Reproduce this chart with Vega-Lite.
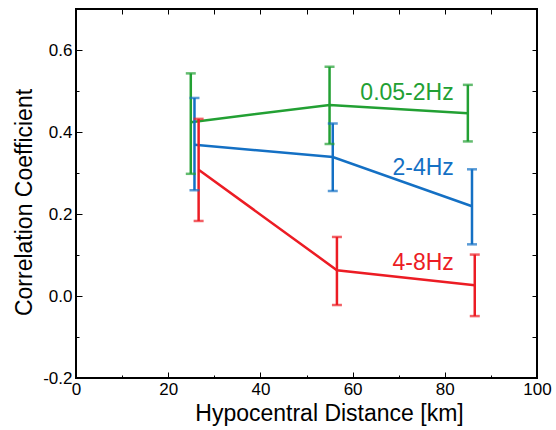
{
  "$schema": "https://vega.github.io/schema/vega-lite/v6.json",
  "width": 461,
  "height": 369,
  "autosize": {"type": "none"},
  "padding": {"left": 76, "top": 9, "right": 19, "bottom": 52},
  "background": "white",
  "config": {
    "view": {"stroke": "black", "strokeWidth": 2},
    "font": "Liberation Sans",
    "axis": {"domain": false, "grid": false, "tickColor": "black", "tickWidth": 1, "labelColor": "black", "titleColor": "black", "labelFont": "Liberation Sans", "titleFont": "Liberation Sans", "titleFontWeight": "normal"}
  },
  "datasets": {
    "pts": [
      {"band": "0.05-2Hz", "dist": 24.9, "mean": 0.424, "lo": 0.298, "hi": 0.543},
      {"band": "0.05-2Hz", "dist": 55.0, "mean": 0.466, "lo": 0.371, "hi": 0.559},
      {"band": "0.05-2Hz", "dist": 85.0, "mean": 0.446, "lo": 0.377, "hi": 0.515},
      {"band": "2-4Hz", "dist": 25.7, "mean": 0.369, "lo": 0.258, "hi": 0.483},
      {"band": "2-4Hz", "dist": 55.7, "mean": 0.339, "lo": 0.256, "hi": 0.421},
      {"band": "2-4Hz", "dist": 85.9, "mean": 0.219, "lo": 0.126, "hi": 0.309},
      {"band": "4-8Hz", "dist": 26.6, "mean": 0.308, "lo": 0.183, "hi": 0.432},
      {"band": "4-8Hz", "dist": 56.6, "mean": 0.063, "lo": -0.022, "hi": 0.144},
      {"band": "4-8Hz", "dist": 86.5, "mean": 0.026, "lo": -0.049, "hi": 0.101}
    ],
    "labels": [
      {"band": "0.05-2Hz", "lx": 71.8, "ly": 0.494},
      {"band": "2-4Hz", "lx": 75.3, "ly": 0.311},
      {"band": "4-8Hz", "lx": 75.3, "ly": 0.080}
    ]
  },
  "resolve": {"axis": {"x": "independent", "y": "independent"}},
  "layer": [
    {
      "data": {"name": "pts"},
      "mark": {"type": "line", "strokeWidth": 2.5},
      "encoding": {
        "x": {"field": "dist", "type": "quantitative",
          "scale": {"domain": [0, 100], "nice": false, "zero": false},
          "axis": {"orient": "bottom", "values": [0, 20, 40, 60, 80, 100], "format": "d", "tickSize": -6, "labelPadding": 9, "labelFontSize": 17, "labelFlush": false, "title": "Hypocentral Distance [km]", "titleFontSize": 23, "titlePadding": 5, "titleX": 253}},
        "y": {"field": "mean", "type": "quantitative",
          "scale": {"domain": [-0.2, 0.7], "nice": false, "zero": false},
          "axis": {"orient": "left", "values": [-0.2, 0, 0.2, 0.4, 0.6], "labelExpr": "datum.value < 0 ? '-' + format(-datum.value, '.1f') : format(datum.value, '.1f')", "tickSize": -6, "labelPadding": 10, "labelFontSize": 17, "labelFlush": false, "title": "Correlation Coefficient", "titleFontSize": 23, "titlePadding": 6, "titleY": 193}},
        "color": {"field": "band", "type": "nominal",
          "scale": {"domain": ["0.05-2Hz", "2-4Hz", "4-8Hz"], "range": ["#22a033", "#1470c4", "#ec1c24"]},
          "legend": null}
      }
    },
    {
      "data": {"name": "pts"},
      "mark": {"type": "rule", "strokeWidth": 2.5},
      "encoding": {
        "x": {"field": "dist", "type": "quantitative",
          "axis": {"orient": "bottom", "values": [10, 30, 50, 70, 90], "labels": false, "tickSize": -3, "title": null}},
        "y": {"field": "lo", "type": "quantitative",
          "axis": {"orient": "left", "values": [-0.1, 0.1, 0.3, 0.5, 0.7], "labels": false, "tickSize": -3, "title": null}},
        "y2": {"field": "hi"},
        "color": {"field": "band", "type": "nominal"}
      }
    },
    {
      "data": {"name": "pts"},
      "mark": {"type": "tick", "orient": "horizontal", "size": 10, "thickness": 2.5},
      "encoding": {
        "x": {"field": "dist", "type": "quantitative",
          "axis": {"orient": "top", "values": [10, 20, 30, 40, 50, 60, 70, 80, 90], "labels": false, "tickSize": -5, "title": null}},
        "y": {"field": "hi", "type": "quantitative",
          "axis": {"orient": "right", "values": [-0.1, 0, 0.1, 0.2, 0.3, 0.4, 0.5, 0.6], "labels": false, "tickSize": -5, "title": null}},
        "color": {"field": "band", "type": "nominal"}
      }
    },
    {
      "data": {"name": "pts"},
      "mark": {"type": "tick", "orient": "horizontal", "size": 10, "thickness": 2.5},
      "encoding": {
        "x": {"field": "dist", "type": "quantitative", "axis": null},
        "y": {"field": "lo", "type": "quantitative", "axis": null},
        "color": {"field": "band", "type": "nominal"}
      }
    },
    {
      "data": {"name": "labels"},
      "mark": {"type": "text", "fontSize": 23, "font": "Liberation Sans", "align": "center", "baseline": "middle"},
      "encoding": {
        "x": {"field": "lx", "type": "quantitative", "axis": null},
        "y": {"field": "ly", "type": "quantitative", "axis": null},
        "text": {"field": "band"},
        "color": {"field": "band", "type": "nominal"}
      }
    }
  ]
}
